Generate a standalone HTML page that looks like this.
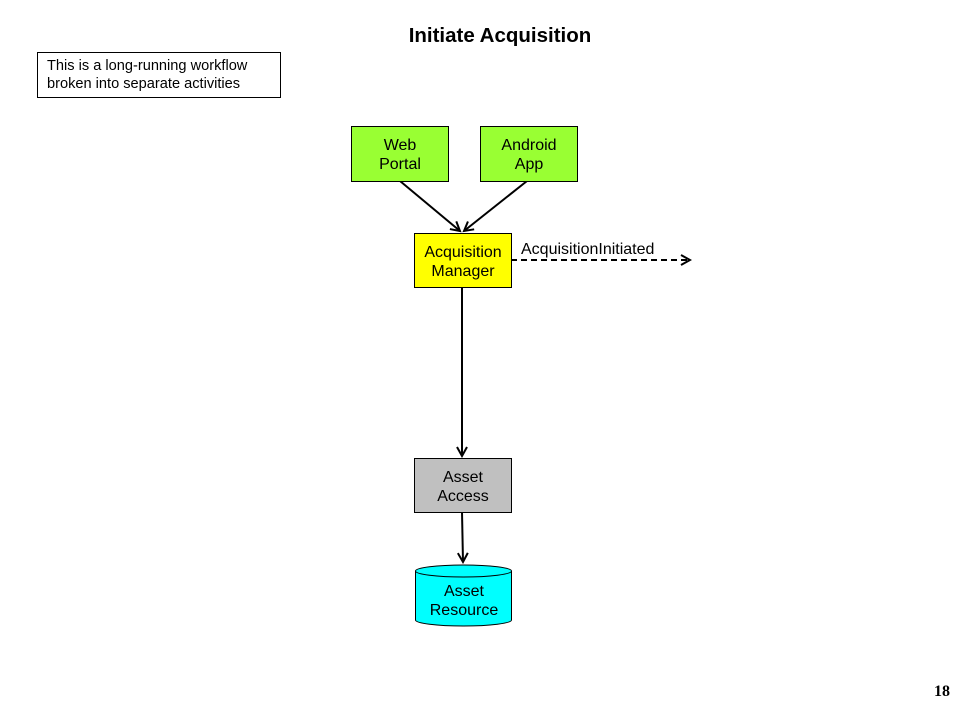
<!DOCTYPE html>
<html><head><meta charset="utf-8"><style>
body{margin:0;background:#fff;width:960px;height:720px;overflow:hidden;font-family:"Liberation Sans",sans-serif}
</style></head><body>
<svg width="960" height="720" xmlns="http://www.w3.org/2000/svg" font-family="Liberation Sans, sans-serif">
<defs>
<marker id="a" markerWidth="12" markerHeight="12" refX="10" refY="6" orient="auto" markerUnits="userSpaceOnUse">
<path d="M1,1 L10,6 L1,11" fill="none" stroke="#000" stroke-width="2"/>
</marker>
</defs>
<text x="500" y="42" text-anchor="middle" font-size="20.5" font-weight="bold">Initiate Acquisition</text>
<rect x="37.5" y="52.5" width="243" height="45" fill="#fff" stroke="#000"/>
<text x="47" y="70" font-size="14.6">This is a long-running workflow</text>
<text x="47" y="88" font-size="14.6">broken into separate activities</text>

<line x1="400" y1="181" x2="460" y2="231" stroke="#000" stroke-width="2" marker-end="url(#a)"/>
<line x1="527" y1="181" x2="464" y2="231" stroke="#000" stroke-width="2" marker-end="url(#a)"/>
<line x1="511" y1="260" x2="690" y2="260" stroke="#000" stroke-width="2" stroke-dasharray="6,4" marker-end="url(#a)"/>
<line x1="462" y1="287" x2="462" y2="456" stroke="#000" stroke-width="2" marker-end="url(#a)"/>
<line x1="462" y1="512" x2="463" y2="562" stroke="#000" stroke-width="2" marker-end="url(#a)"/>

<rect x="351.5" y="126.5" width="97" height="55" fill="#99ff33" stroke="#000"/>
<text x="400" y="150" text-anchor="middle" font-size="16">Web</text>
<text x="400" y="169" text-anchor="middle" font-size="16">Portal</text>
<rect x="480.5" y="126.5" width="97" height="55" fill="#99ff33" stroke="#000"/>
<text x="529" y="150" text-anchor="middle" font-size="16">Android</text>
<text x="529" y="169" text-anchor="middle" font-size="16">App</text>

<rect x="414.5" y="233.5" width="97" height="54" fill="#ffff00" stroke="#000"/>
<text x="463" y="257" text-anchor="middle" font-size="16">Acquisition</text>
<text x="463" y="276" text-anchor="middle" font-size="16">Manager</text>
<text x="521" y="254" font-size="16">AcquisitionInitiated</text>

<rect x="414.5" y="458.5" width="97" height="54" fill="#c0c0c0" stroke="#000"/>
<text x="463" y="482" text-anchor="middle" font-size="16">Asset</text>
<text x="463" y="501" text-anchor="middle" font-size="16">Access</text>

<path d="M415.5,571 L415.5,620 A48,6 0 0 0 511.5,620 L511.5,571" fill="#00ffff" stroke="#000"/>
<ellipse cx="463.5" cy="571" rx="48" ry="6" fill="#00ffff" stroke="#000"/>
<text x="464" y="596" text-anchor="middle" font-size="16">Asset</text>
<text x="464" y="615" text-anchor="middle" font-size="16">Resource</text>

<text x="950" y="696" text-anchor="end" font-size="16" font-weight="bold" font-family="Liberation Serif, serif">18</text>
</svg>
</body></html>
